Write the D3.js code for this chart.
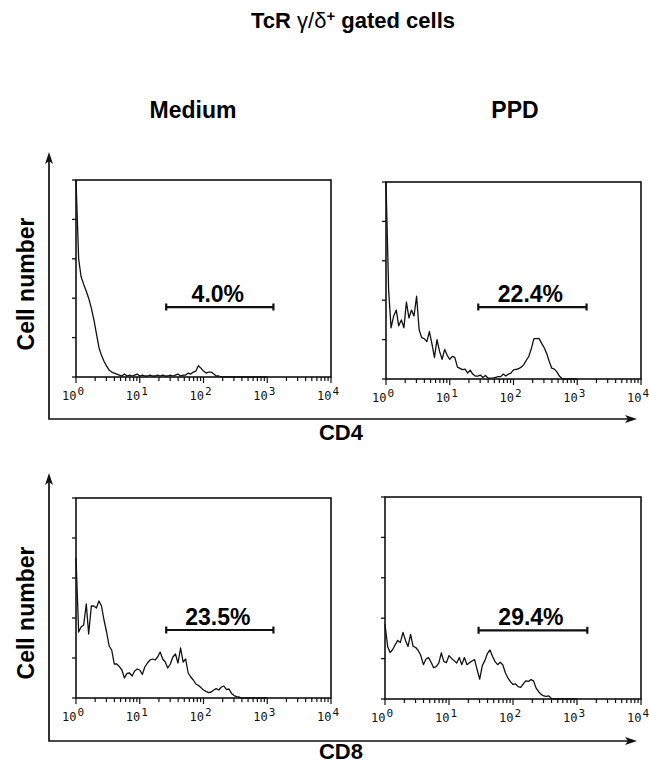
<!DOCTYPE html>
<html>
<head>
<meta charset="utf-8">
<script src="https://cdn.jsdelivr.net/npm/d3@7"></script>
<style>
  body { margin: 0; background: #fff; }
</style>
</head>
<body>
<svg id="chart" width="649" height="765"></svg>
<script>
// fluorescence channels (log spaced, 10^0 .. 10^3)
const channels = [1.00, 1.10, 1.20, 1.32, 1.45, 1.58, 1.74, 1.91, 2.09, 2.29, 2.51, 2.75, 3.02, 3.31, 3.63, 3.98, 4.37, 4.79, 5.25, 5.75, 6.31, 6.92, 7.59, 8.32, 9.12,
    10.0, 11.0, 12.0, 13.2, 14.5, 15.8, 17.4, 19.1, 20.9, 22.9, 25.1, 27.5, 30.2, 33.1, 36.3, 39.8, 43.7, 47.9, 52.5, 57.5, 63.1, 69.2, 75.9, 83.2, 91.2,
    100, 110, 120, 132, 145, 158, 174, 191, 209, 229, 251, 275, 302, 331, 363, 398, 437, 479, 525, 575, 631, 692, 759, 832, 912, 1000];

// cell counts, % of panel height
const cd4Medium = [100, 60, 51, 47, 43.5, 40, 35, 29, 22, 15, 11, 8, 5.5, 3.5, 2.5, 2, 1.5,
    1, 0.5, 1.5, 0.5, 1, 0.5, 1, 1.5, 0.5, 1, 0.5, 0.5, 1, 0.5, 0.5, 1, 0.5, 1, 0.5, 0.5, 1, 0.5, 1, 1.5, 0.5, 1,
    1, 2, 1.5, 2.5, 3, 5.7, 4.5, 3, 2, 2.5, 2.5, 1.5, 0.5, 0.5, 0,
    0, 0, 0, 0, 0, 0, 0, 0, 0, 0, 0, 0, 0, 0, 0, 0, 0, 0];
const cd4PPD = [100, 45, 26, 32, 35, 27, 30, 26, 39, 31,
    35, 32, 42, 25, 21, 20.5, 19, 24, 18, 11,
    20, 14, 10, 15, 12, 10, 11.5, 11, 6, 5.4,
    4.8, 5, 3, 4.5, 2.5, 1.5, 1.5, 2, 0.8, 1.8,
    0.5, 0.4, 0.4, 0.8, 1.2, 1.2, 2.5, 1.5, 2.5, 3,
    4.6, 4.9, 5.2, 6, 7.3, 9.4, 11.5, 15.5, 20.5, 20.5,
    20.6, 18.2, 16, 13, 9, 5.5, 5, 3.6, 1.5, 0.3,
    0, 0, 0, 0, 0, 0];
const cd8Medium = [70, 33, 35.5, 36.5, 47, 32, 46, 46, 45, 48.5,
    46, 39, 33, 26, 24, 17, 17, 15.7, 14, 10,
    12.3, 12.5, 11, 13.5, 14.5, 14, 11.8, 15.5, 17.5, 19,
    19.5, 19, 20.5, 23, 19.5, 18, 15, 17, 20.5, 22,
    17.5, 25, 18, 19.5, 12.5, 10.5, 9, 7, 6.3, 5.2,
    4, 3.3, 2.7, 3, 4, 4.7, 4, 5.5, 6, 4.2,
    4.5, 2.3, 1.2, 0.7, 0.5, 0, 0, 0, 0, 0,
    0, 0, 0, 0, 0, 0];
const cd8PPD = [37, 26, 23, 24.5, 27, 29, 28, 33, 29, 26,
    32, 26, 25.5, 24, 21.5, 17, 19.8, 20.5, 18.2, 15.5,
    16, 17.8, 22.8, 18.5, 18, 21.5, 20.1, 19, 17.8, 20.5,
    17, 20.5, 17, 18, 18.8, 19.5, 14.5, 9.8, 16.5, 19,
    22.5, 24.3, 21, 18.5, 17, 18.2, 17, 13, 10.5, 8.6,
    7.2, 7.5, 6.1, 5.8, 7.5, 9, 8.7, 9.6, 9, 5.5,
    3.6, 2.3, 1.5, 1.3, 1.5, 0.3, 0, 0, 0, 0,
    0, 0, 0, 0, 0, 0];

// gates (marker bars)
const gateLabels = ["4.0%", "22.4%", "23.5%", "29.4%"];
const gateLow = [26, 28, 26, 29];
const gateHigh = [1250, 1400, 1250, 1450];
const gateLevel = [35.5, 36.5, 34, 34];

const columnTitles = ["Medium", "PPD"];
const rowMarkers = ["CD4", "CD8"];
const decades = [0, 1, 2, 3, 4];

const font = "'Liberation Sans', Arial, Helvetica, sans-serif";
const monoFont = "'DejaVu Sans Mono', 'Liberation Mono', monospace";
const svg = d3.select("#chart");

// title
let title = svg.append("text")
    .attr("x", 353).attr("y", 28)
    .attr("text-anchor", "middle")
    .style("font-family", font).style("font-size", "22px").style("font-weight", "bold");
title.append("tspan").text("TcR ");
title.append("tspan").style("font-weight", "normal").text("γ/δ");
title.append("tspan").attr("dy", -7).style("font-size", "15px").text("+");
title.append("tspan").attr("dy", 7).text(" gated cells");

// column titles
svg.selectAll(".colTitle")
    .data(columnTitles)
    .join("text")
    .attr("class", "colTitle")
    .attr("x", (d, i) => i == 0 ? 193 : 515)
    .attr("y", 118)
    .attr("text-anchor", "middle")
    .style("font-family", font).style("font-size", "23px").style("font-weight", "bold")
    .text(d => d);

// big arrow frames, one per row
let rows = [{top: 152, base: 419, label: 440}, {top: 473, base: 741, label: 759}];
rows.forEach(function(r, i) {
    let g = svg.append("g");
    g.append("path")
        .attr("d", "M49," + (r.top + 6) + "V" + r.base + "H630")
        .attr("fill", "none").attr("stroke", "#111").attr("stroke-width", 1.7);
    // arrow heads
    g.append("path")
        .attr("d", "M49," + r.top + "L45," + (r.top + 12) + "L49," + (r.top + 9) + "L53," + (r.top + 12) + "Z")
        .attr("fill", "#111");
    g.append("path")
        .attr("d", "M637," + r.base + "L625," + (r.base - 4) + "L628," + r.base + "L625," + (r.base + 4) + "Z")
        .attr("fill", "#111");
    g.append("text")
        .attr("x", 341).attr("y", r.label)
        .attr("text-anchor", "middle")
        .style("font-family", font).style("font-size", "22px").style("font-weight", "bold")
        .text(rowMarkers[i]);
    g.append("text")
        .attr("transform", "translate(34," + (i == 0 ? 284 : 613) + ") rotate(-90)")
        .attr("text-anchor", "middle")
        .style("font-family", font).style("font-size", "23px").style("font-weight", "bold")
        .text("Cell number");
});

let panels = [
    {series: cd4Medium, x: 76, y: 180, w: 255, h: 197},
    {series: cd4PPD, x: 386, y: 182, w: 255, h: 197},
    {series: cd8Medium, x: 76, y: 498, w: 255, h: 200},
    {series: cd8PPD, x: 385, y: 497, w: 256, h: 202}
];

panels.forEach(function(p, k) {
    let xScale = d3.scaleLog().domain([1, 10000]).range([p.x, p.x + p.w]);
    let yScale = d3.scaleLinear().domain([0, 100]).range([p.y + p.h, p.y]);
    let g = svg.append("g");

    g.append("rect")
        .attr("x", p.x).attr("y", p.y)
        .attr("width", p.w).attr("height", p.h)
        .attr("fill", "none").attr("stroke", "#111").attr("stroke-width", 1.6);

    // y ticks, pointing out
    g.selectAll(".yt")
        .data(yScale.ticks(5))
        .join("line")
        .attr("x1", p.x - 4).attr("x2", p.x)
        .attr("y1", d => yScale(d)).attr("y2", d => yScale(d))
        .attr("stroke", "#111").attr("stroke-width", 1.3);

    // log ticks along the bottom
    g.selectAll(".xt")
        .data(xScale.ticks())
        .join("line")
        .attr("x1", d => xScale(d)).attr("x2", d => xScale(d))
        .attr("y1", p.y + p.h)
        .attr("y2", d => p.y + p.h + (Math.log10(d) % 1 == 0 ? 6 : 4))
        .attr("stroke", "#111").attr("stroke-width", 1.2);

    let labels = g.selectAll(".xl")
        .data(decades)
        .join("text")
        .attr("x", d => xScale(Math.pow(10, d)) - 3)
        .attr("y", p.y + p.h + 23)
        .attr("text-anchor", "middle")
        .style("font-family", monoFont).style("font-size", "12px")
        .attr("fill", "#111");
    labels.append("tspan").text("10");
    labels.append("tspan").attr("dx", 1).attr("dy", -5).style("font-size", "11px").text(d => d);

    // histogram trace
    let line = d3.line()
        .x(d => xScale(d[0]))
        .y(d => yScale(d[1]));
    g.append("path")
        .datum(channels.map((c, i) => [c, p.series[i]]))
        .attr("d", line)
        .attr("fill", "none").attr("stroke", "#111").attr("stroke-width", 1.3)
        .attr("stroke-linejoin", "round");

    // gate marker
    let gx1 = xScale(gateLow[k]), gx2 = xScale(gateHigh[k]), gy = yScale(gateLevel[k]);
    g.append("path")
        .attr("d", "M" + gx1 + "," + gy + "H" + gx2 +
            "M" + gx1 + "," + (gy - 3.5) + "V" + (gy + 3.5) +
            "M" + gx2 + "," + (gy - 3.5) + "V" + (gy + 3.5))
        .attr("fill", "none").attr("stroke", "#111").attr("stroke-width", 2.2);
    g.append("text")
        .attr("x", (gx1 + gx2) / 2 - 2)
        .attr("y", gy - 5)
        .attr("text-anchor", "middle")
        .style("font-family", font).style("font-size", "23px").style("font-weight", "bold")
        .text(gateLabels[k]);
});
</script>
</body>
</html>
